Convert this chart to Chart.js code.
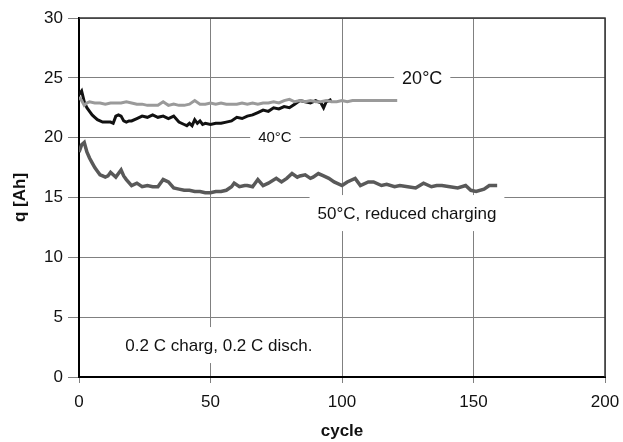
<!DOCTYPE html>
<html>
<head>
<meta charset="utf-8">
<script src="https://cdn.jsdelivr.net/npm/chart.js@4/dist/chart.umd.min.js"></script>
<style>
  body { margin: 0; background: #fff; }
  #wrap { width: 623px; height: 442px; }
</style>
</head>
<body>
<div id="wrap"><canvas id="lineChart"></canvas></div>
<script>
// cycle numbers and capacity q [Ah]
var cycles20 = [0, 1, 2, 3, 4, 6, 8, 10, 12, 14, 16, 18, 20, 22, 24, 26, 28, 30, 32, 34, 36, 38, 40, 42, 44, 46, 48, 50, 52, 54, 56, 58, 60, 62, 64, 66, 68, 70, 72, 74, 76, 78, 80, 82, 84, 86, 88, 90, 92, 94, 96, 98, 100, 102, 104, 106, 108, 110, 112, 114, 116, 118, 121];
var q20 = [23.4, 23.1, 22.7, 22.9, 23.0, 22.9, 22.9, 22.8, 22.9, 22.9, 22.9, 23.0, 22.9, 22.8, 22.8, 22.7, 22.7, 22.7, 23.0, 22.7, 22.8, 22.7, 22.7, 22.8, 23.1, 22.8, 22.8, 22.9, 22.8, 22.9, 22.8, 22.8, 22.8, 22.9, 22.8, 22.9, 22.8, 22.9, 22.9, 23.0, 22.9, 23.1, 23.2, 23.0, 23.1, 23.0, 23.1, 23.0, 23.0, 23.1, 23.0, 23.0, 23.1, 23.0, 23.1, 23.1, 23.1, 23.1, 23.1, 23.1, 23.1, 23.1, 23.1];

var cycles40 = [0, 1, 2, 3, 4, 5, 6, 7, 8, 9, 10, 11, 12, 13, 14, 15, 16, 17, 18, 19, 20, 22, 24, 26, 28, 30, 32, 34, 36, 38, 40, 41, 42, 43, 44, 45, 46, 47, 48, 50, 52, 54, 56, 58, 60, 62, 64, 66, 68, 70, 72, 74, 76, 78, 80, 82, 84, 86, 88, 90, 91, 92, 93, 94, 95, 96];
var q40 = [23.6, 23.9, 23.0, 22.5, 22.2, 21.9, 21.7, 21.5, 21.4, 21.3, 21.3, 21.3, 21.3, 21.2, 21.8, 21.9, 21.8, 21.4, 21.3, 21.4, 21.4, 21.6, 21.8, 21.7, 21.9, 21.7, 21.8, 21.6, 21.8, 21.3, 21.1, 21.0, 21.2, 21.0, 21.5, 21.2, 21.4, 21.1, 21.2, 21.1, 21.2, 21.2, 21.3, 21.4, 21.7, 21.6, 21.8, 21.9, 22.1, 22.3, 22.2, 22.5, 22.4, 22.6, 22.5, 22.8, 23.1, 23.0, 22.9, 23.1, 23.0, 22.9, 22.5, 23.0, 23.1, 23.2];

var cycles50 = [0, 1, 2, 3, 4, 5, 6, 7, 8, 9, 10, 11, 12, 13, 14, 15, 16, 17, 18, 20, 22, 24, 26, 28, 30, 32, 34, 36, 38, 40, 42, 44, 46, 48, 50, 52, 54, 56, 58, 59, 61, 63, 64, 66, 68, 70, 72, 75, 77, 79, 81, 83, 84, 86, 88, 89, 91, 93, 95, 97, 100, 102, 105, 107, 110, 112, 115, 117, 120, 122, 125, 128, 131, 134, 136, 138, 141, 144, 147, 149, 151, 154, 156, 159];
var q50 = [18.8, 19.4, 19.6, 18.8, 18.3, 17.9, 17.5, 17.2, 16.9, 16.8, 16.7, 16.8, 17.1, 16.9, 16.7, 17.0, 17.3, 16.8, 16.5, 16.0, 16.2, 15.9, 16.0, 15.9, 15.9, 16.5, 16.3, 15.8, 15.7, 15.6, 15.6, 15.5, 15.5, 15.4, 15.4, 15.5, 15.5, 15.6, 15.9, 16.2, 15.9, 16.0, 16.0, 15.9, 16.5, 16.0, 16.2, 16.6, 16.3, 16.6, 17.0, 16.7, 16.8, 16.9, 16.6, 16.7, 17.0, 16.8, 16.6, 16.3, 16.0, 16.3, 16.6, 16.0, 16.3, 16.3, 16.0, 16.1, 15.9, 16.0, 15.9, 15.8, 16.2, 15.9, 16.0, 16.0, 15.9, 15.8, 16.0, 15.6, 15.5, 15.7, 16.0, 16.0];

var xTicks = [0, 50, 100, 150, 200];
var yTicks = [0, 5, 10, 15, 20, 25, 30];

// text labels placed in data units: [text, cycle, q, font size]
var notes = [
    ['20°C', 130.5, 25, 18],
    ['40°C', 74.5, 20.05, 15],
    ['50°C, reduced charging', 124.7, 13.7, 17],
    ['0.2 C charg, 0.2 C disch.', 53.2, 2.67, 17]
];

var FONT = '"Liberation Sans", Arial, Helvetica, sans-serif';

function toPoints(xs, ys) {
    return xs.map(function (x, i) { return { x: x, y: ys[i] }; });
}

var notesPlugin = {
    id: 'notes',
    beforeDatasetsDraw: function (chart) {
        var ctx = chart.ctx;
        var xs = chart.scales.x, ys = chart.scales.y;
        var area = chart.chartArea;
        ctx.save();
        // top and right frame lines
        ctx.strokeStyle = '#333';
        ctx.lineWidth = 1.5;
        ctx.beginPath();
        ctx.moveTo(area.left, area.top);
        ctx.lineTo(area.right, area.top);
        ctx.lineTo(area.right, area.bottom);
        ctx.stroke();

        ctx.textAlign = 'center';
        ctx.textBaseline = 'middle';
        notes.forEach(function (n) {
            var px = xs.getPixelForValue(n[1]);
            var py = ys.getPixelForValue(n[2]);
            ctx.font = n[3] + 'px ' + FONT;
            var w = ctx.measureText(n[0]).width;
            var h = n[3] === 15 ? 14 : 18;
            ctx.fillStyle = '#fff';
            ctx.fillRect(px - w / 2 - 8, py - h, w + 16, h * 2);
            ctx.fillStyle = '#111';
            ctx.fillText(n[0], px, py + 1);
        });
        ctx.restore();
    }
};

var ctx = document.getElementById('lineChart').getContext('2d');
var myChart = new Chart(ctx, {
    type: 'line',
    data: {
        datasets: [{
            label: '20°C',
            data: toPoints(cycles20, q20),
            borderColor: '#9a9a9a',
            borderWidth: 3
        }, {
            label: '50°C, reduced charging',
            data: toPoints(cycles50, q50),
            borderColor: '#595959',
            borderWidth: 3.5
        }, {
            label: '40°C',
            data: toPoints(cycles40, q40),
            borderColor: '#111',
            borderWidth: 3
        }]
    },
    plugins: [notesPlugin],
    options: {
        maintainAspectRatio: false,
        responsive: true,
        animation: false,
        layout: {
            padding: { top: 18, right: 18, left: 0, bottom: 0 }
        },
        elements: {
            point: { radius: 0 },
            line: { tension: 0 }
        },
        plugins: {
            legend: { display: false },
            tooltip: { enabled: false }
        },
        scales: {
            x: {
                type: 'linear',
                min: 0,
                max: 200,
                afterBuildTicks: function (scale) {
                    scale.ticks = xTicks.map(function (v) { return { value: v }; });
                },
                afterFit: function (scale) {
                    scale.height = 65;
                    scale.paddingLeft = 0;
                    scale.paddingRight = 0;
                },
                grid: { color: '#808080', lineWidth: 1, tickLength: 6 },
                border: { color: '#000', width: 2 },
                ticks: { color: '#111', padding: 9, font: { family: FONT, size: 17 } },
                title: {
                    display: true,
                    text: 'cycle',
                    color: '#111',
                    padding: { top: 0, bottom: 0 },
                    font: { family: FONT, size: 17, weight: 'bold' }
                }
            },
            y: {
                min: 0,
                max: 30,
                afterBuildTicks: function (scale) {
                    scale.ticks = yTicks.map(function (v) { return { value: v }; });
                },
                afterFit: function (scale) {
                    scale.width = 79;
                    scale.paddingTop = 0;
                    scale.paddingBottom = 0;
                },
                grid: { color: '#808080', lineWidth: 1, tickLength: 11 },
                border: { color: '#000', width: 2 },
                ticks: { color: '#111', padding: 5, font: { family: FONT, size: 17 } },
                title: {
                    display: true,
                    text: 'q [Ah]',
                    color: '#111',
                    padding: { top: 10, bottom: 0 },
                    font: { family: FONT, size: 17, weight: 'bold' }
                }
            }
        }
    }
});
</script>
</body>
</html>
